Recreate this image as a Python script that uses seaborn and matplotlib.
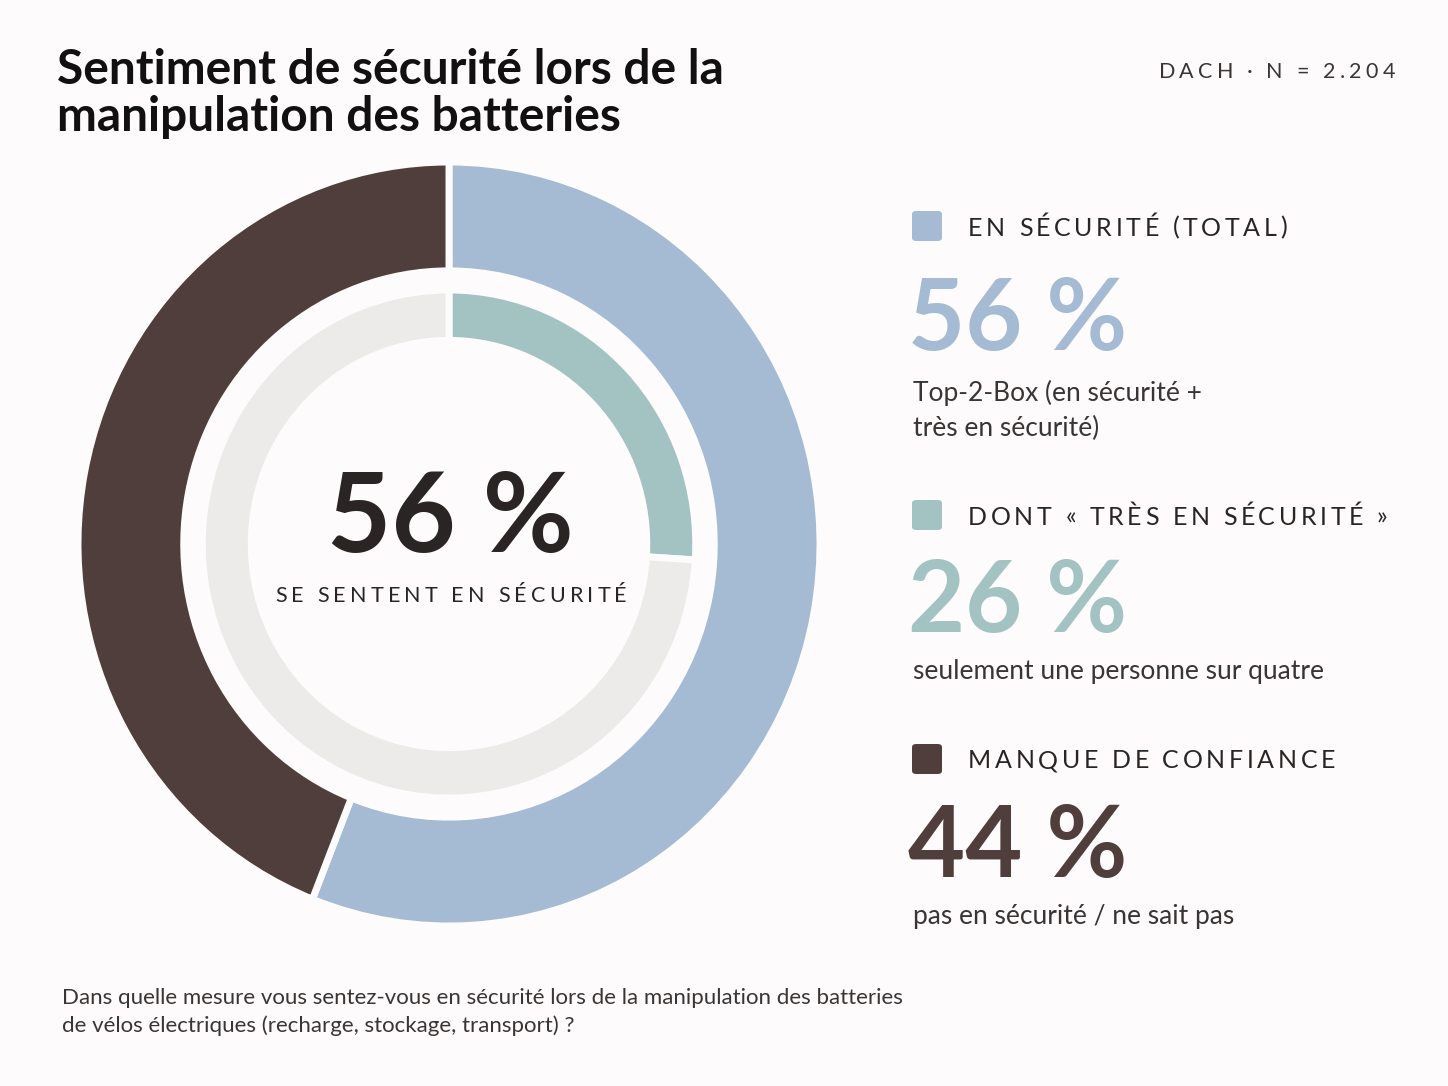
import matplotlib
matplotlib.use("Agg")
import matplotlib.pyplot as plt
import seaborn as sns
from matplotlib.patches import FancyBboxPatch
from matplotlib.textpath import TextToPath
from matplotlib.font_manager import FontProperties

# --- DATA ---
outer_labels = ["En sécurité (total)", "Manque de confiance"]
outer_values = [56, 44]
inner_labels = ["Très en sécurité", "Reste"]
inner_values = [26, 74]

key_titles = ["EN SÉCURITÉ (TOTAL)", "DONT « TRÈS EN SÉCURITÉ »", "MANQUE DE CONFIANCE"]
key_values = [56, 26, 44]
key_notes = [["Top-2-Box (en sécurité +", "très en sécurité)"],
             ["seulement une personne sur quatre"],
             ["pas en sécurité / ne sait pas"]]

title_lines = ["Sentiment de sécurité lors de la", "manipulation des batteries"]
sample = "DACH · N = 2.204"
question_lines = ["Dans quelle mesure vous sentez-vous en sécurité lors de la manipulation des batteries",
                  "de vélos électriques (recharge, stockage, transport) ?"]

# --- STYLE ---
BLUE = "#A5BBD3"
BROWN = "#4F3E3B"
TEAL = "#A3C3C2"
GRAY = "#EDEBEA"
BG = "#FDFBFB"
INK = "#2A2424"
TEXT = "#3A3535"

sns.set_theme(style="white")
plt.rcParams["font.family"] = ["Lato", "DejaVu Sans"]

W, H, DPI = 1448, 1086, 100
fig = plt.figure(figsize=(W / DPI, H / DPI), dpi=DPI, facecolor=BG)


def fx(x):
    return x / W


def fy(y):
    return 1 - y / H


t2p = TextToPath()


def tracked(x, y, s, size, track, color, weight="normal", ha="left"):
    # letter-spaced text, x/y in pixels from top-left, y = vertical centre
    prop = FontProperties(family="Lato", size=size, weight=weight)
    widths = [t2p.get_text_width_height_descent(c, prop, ismath=False)[0] * DPI / 72 for c in s]
    total = sum(widths) + track * (len(s) - 1)
    if ha == "right":
        x = x - total
    elif ha == "center":
        x = x - total / 2
    for c, w in zip(s, widths):
        fig.text(fx(x), fy(y), c, fontproperties=prop, color=color, va="center_baseline", ha="left")
        x += w + track


# --- DONUT ---
cx, cy, rx, ry = 449, 544, 371, 382
ax = fig.add_axes([fx(cx - 1.05 * rx), fy(cy + 1.05 * ry), 2.1 * rx / W, 2.1 * ry / H])
ax.pie(outer_values, radius=1.0, colors=[BLUE, BROWN], startangle=90, counterclock=False,
       wedgeprops=dict(width=0.285, edgecolor=BG, linewidth=5))
ax.pie(inner_values, radius=0.665, colors=[TEAL, GRAY], startangle=90, counterclock=False,
       wedgeprops=dict(width=0.132, edgecolor=BG, linewidth=5))
ax.set_aspect("auto")
ax.set_xlim(-1.05, 1.05)
ax.set_ylim(-1.05, 1.05)
ax.axis("off")

fig.text(fx(cx + 1), fy(552), f"{outer_values[0]} %", ha="center", va="baseline", fontsize=80,
         fontweight="bold", color=INK)
tracked(cx + 2, 594, "SE SENTENT EN SÉCURITÉ", 15.5, 4.2, INK, ha="center")

# --- TITLE ---
for line, yb in zip(title_lines, [84, 131]):
    fig.text(fx(57), fy(yb), line, fontsize=34.5, fontweight="bold", color="#111111",
             va="baseline", ha="left")
tracked(1395, 70, sample, 15.5, 4.2, TEXT, ha="right")

# --- KEY FIGURES ---
key_colors = [BLUE, TEAL, BROWN]
head_y = [226, 515, 759]
num_y = [350, 632, 877]
note_y = [390, 669, 914]
for t, v, notes, c, hy, ny, ty in zip(key_titles, key_values, key_notes, key_colors,
                                       head_y, num_y, note_y):
    sq = FancyBboxPatch((fx(912), fy(hy + 15)), 30 / W, 30 / H,
                        boxstyle="round,pad=0,rounding_size=0.003", transform=fig.transFigure,
                        facecolor=c, edgecolor="none")
    fig.patches.append(sq)
    tracked(968, hy, t, 18, 3.6, INK)
    fig.text(fx(908), fy(ny), f"{v} %", fontsize=71, fontweight="bold", color=c,
             va="baseline", ha="left")
    for i, n in enumerate(notes):
        fig.text(fx(913), fy(ty + 36 * i), n, fontsize=19, color=TEXT,
                 va="center_baseline", ha="left")

# --- QUESTION ---
for line, yc in zip(question_lines, [996, 1024]):
    fig.text(fx(62), fy(yc), line, fontsize=16, color=TEXT, va="center_baseline", ha="left")

fig.savefig("out.png", dpi=DPI, facecolor=BG)
